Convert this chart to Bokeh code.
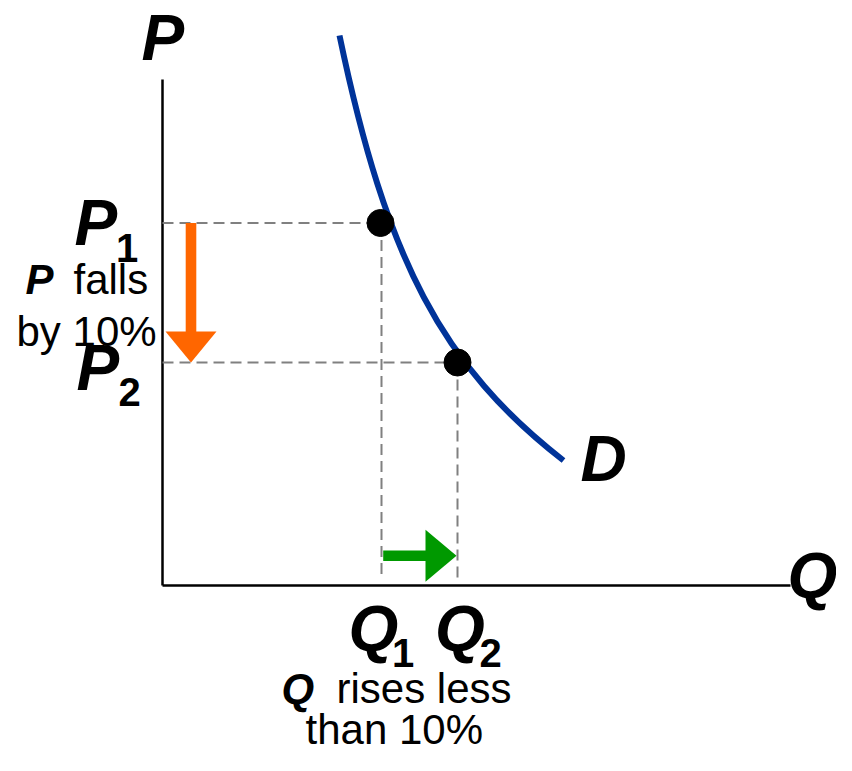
from bokeh.plotting import figure
from bokeh.models import Range1d
from bokeh.core.properties import value
from bokeh.embed import file_html
from bokeh.resources import INLINE

# ---------------- data (axis units) ----------------
q_axis_max = 62.8
p_axis_max = 50.6

Q1, Q2 = 21.9, 29.5
P1, P2 = 36.25, 22.3

# demand curve: end points and Bezier control points
demand_start = (17.7, 55.0)
demand_ctrl1 = (22.4, 32.5)
demand_ctrl2 = (28.0, 21.9)
demand_end = (40.1, 12.5)

price_arrow_x = 2.85      # where the "P falls" arrow is drawn
qty_arrow_y = 2.97        # where the "Q rises" arrow is drawn

FONT = value("Liberation Sans")
BLUE = "#003399"
ORANGE = "#FF6600"
GREEN = "#009900"
GREY = "#808080"

p = figure(width=836, height=755, output_backend="svg", toolbar_location=None,
           x_range=Range1d(-16.2, 67.4), y_range=Range1d(-17.0, 58.5),
           x_axis_type=None, y_axis_type=None, min_border=0, title=None)
p.outline_line_color = None
p.background_fill_color = "white"
p.border_fill_color = "white"

# axes
p.line([0, q_axis_max], [0, 0], line_color="black", line_width=2.5)
p.line([0, 0], [0, p_axis_max], line_color="black", line_width=2.5)

# dashed guides
dash = dict(line_color=GREY, line_width=2, line_dash="11 6")
p.line([0, Q1], [P1, P1], **dash)
p.line([0, Q2], [P2, P2], **dash)
p.line([Q1, Q1], [P1, 0.8], **dash)
p.line([Q2, Q2], [P2, 0.8], **dash)

# demand curve
p.bezier(x0=[demand_start[0]], y0=[demand_start[1]],
         x1=[demand_end[0]], y1=[demand_end[1]],
         cx0=[demand_ctrl1[0]], cy0=[demand_ctrl1[1]],
         cx1=[demand_ctrl2[0]], cy1=[demand_ctrl2[1]],
         line_color=BLUE, line_width=6, line_cap="butt")

# points
p.scatter([Q1 - 0.1, Q2], [P1, P2], size=27, color="black")

# orange arrow (price falls)
head_len_p = 3.1
half_w = 0.53
p.quad(left=[price_arrow_x - half_w], right=[price_arrow_x + half_w],
       top=[P1], bottom=[P2 + head_len_p - 0.1], color=ORANGE, line_color=None)
p.patch([price_arrow_x - 2.55, price_arrow_x + 2.55, price_arrow_x],
        [P2 + head_len_p, P2 + head_len_p, P2], color=ORANGE, line_color=None)

# green arrow (quantity rises)
head_len_q = 3.2
p.quad(left=[Q1 + 0.17], right=[Q2 - head_len_q + 0.1],
       top=[qty_arrow_y + half_w], bottom=[qty_arrow_y - half_w],
       color=GREEN, line_color=None)
p.patch([Q2 - head_len_q, Q2 - head_len_q, Q2 - 0.1],
        [qty_arrow_y + 2.6, qty_arrow_y - 2.6, qty_arrow_y],
        color=GREEN, line_color=None)


def label(x, y, txt, size, style="normal", align="left"):
    # y is the wanted baseline; the renderer sets text ~0.39 em lower
    p.text([x], [y + 0.039 * size], text=[txt], text_font=FONT,
           text_font_size=f"{size}px", text_font_style=style,
           text_align=align, text_baseline="alphabetic", text_color="black")


BIG = 64
SUB = 40
BODY = 42

# axis labels
label(-2.1, p_axis_max + 1.7, "P", BIG, "bold italic")
label(q_axis_max - 0.3, -1.5, "Q", BIG, "bold italic")
label(demand_end[0] + 4.0, demand_end[1] - 2.3, "D", BIG, "bold italic", "center")

# P1, P2
label(-8.8, P1 - 2.45, "P", BIG, "bold italic")
label(-3.55, P1 - 4.05, "1", SUB, "bold", "center")
label(-8.6, P2 - 3.0, "P", BIG, "bold italic")
label(-3.3, P2 - 4.5, "2", SUB, "bold", "center")

# Q1, Q2
label(Q1 - 0.8, -6.8, "Q", BIG, "bold italic", "center")
label(Q1 + 2.15, -8.3, "1", SUB, "bold", "center")
label(Q2 + 0.25, -6.8, "Q", BIG, "bold italic", "center")
label(Q2 + 3.3, -8.3, "2", SUB, "bold", "center")

# annotations
label(-13.7, 29.0, "P", BODY, "bold italic")
label(-8.9, 29.0, "falls", BODY)
label(-14.6, 23.8, "by 10%", BODY)

label(11.9, -11.9, "Q", BODY, "bold italic")
label(17.4, -11.9, "rises less", BODY)
label(14.3, -16.0, "than 10%", BODY)

open("out.html", "w").write(file_html(p, INLINE))
